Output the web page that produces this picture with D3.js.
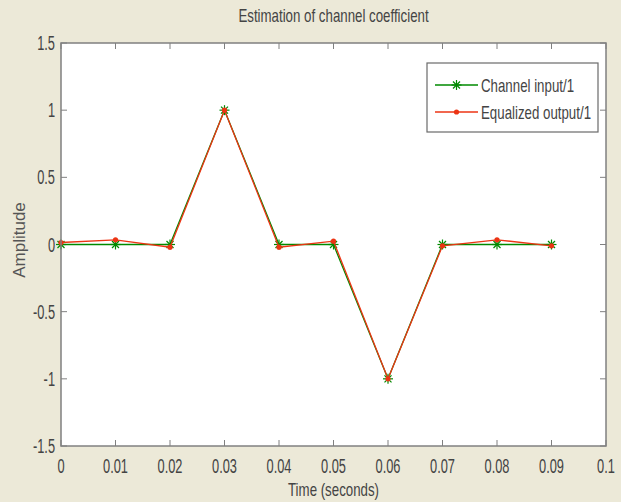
<!DOCTYPE html>
<html>
<head>
<meta charset="utf-8">
<script src="https://cdn.jsdelivr.net/npm/d3@7"></script>
<style>
  html, body { margin: 0; padding: 0; background: #ece9d8; }
  #chart { width: 621px; height: 502px; }
  text { fill: #444; font-family: 'Liberation Sans', Arial, sans-serif; }
</style>
</head>
<body>
<div id="chart"></div>
<script>
const times = [0, 0.01, 0.02, 0.03, 0.04, 0.05, 0.06, 0.07, 0.08, 0.09];
const channelInput = [0, 0, 0, 1, 0, 0, -1, 0, 0, 0];
const equalizedOutput = [0.015, 0.035, -0.02, 1.0, -0.02, 0.025, -1.0, -0.01, 0.035, -0.01];
const xTicks = [0, 0.01, 0.02, 0.03, 0.04, 0.05, 0.06, 0.07, 0.08, 0.09, 0.1];
const yTicks = [-1.5, -1, -0.5, 0, 0.5, 1, 1.5];
const seriesNames = ["Channel input/1", "Equalized output/1"];

function renderChart(el) {
  const W = 621, H = 502;
  const margin = { top: 43, right: 15, bottom: 56, left: 61 };
  const width = W - margin.left - margin.right;
  const height = H - margin.top - margin.bottom;
  const green = "#008a00";
  const red = "#ec3414";
  const axisCol = "#808080";
  const fmt = (d) => String(d).replace("\u2212", "-");

  // MATLAB-on-XP style tall narrow text
  function narrow(sel, x, y, anchor, str, sx, size) {
    return sel.append("text")
      .attr("transform", `translate(${x},${y}) scale(${sx || 0.64},1)`)
      .attr("text-anchor", anchor)
      .style("font-size", (size || 20) + "px")
      .text(str);
  }

  const svg = d3.select(el).append("svg")
    .attr("width", W)
    .attr("height", H);

  svg.append("rect")
    .attr("width", W).attr("height", H)
    .attr("fill", "#ece9d8");

  const g = svg.append("g")
    .attr("transform", `translate(${margin.left},${margin.top})`);

  const x = d3.scaleLinear().domain([0, 0.1]).range([0, width]);
  const y = d3.scaleLinear().domain([-1.5, 1.5]).range([height, 0]);

  g.append("rect")
    .attr("width", width).attr("height", height)
    .attr("fill", "#fff");

  // ticks, inward on all four sides
  const tl = 6;
  const ticks = g.append("g").attr("stroke", axisCol).attr("stroke-width", 1);
  xTicks.forEach((t) => {
    ticks.append("line").attr("x1", x(t)).attr("x2", x(t)).attr("y1", height).attr("y2", height - tl);
    ticks.append("line").attr("x1", x(t)).attr("x2", x(t)).attr("y1", 0).attr("y2", tl);
  });
  yTicks.forEach((t) => {
    ticks.append("line").attr("x1", 0).attr("x2", tl).attr("y1", y(t)).attr("y2", y(t));
    ticks.append("line").attr("x1", width).attr("x2", width - tl).attr("y1", y(t)).attr("y2", y(t));
  });

  xTicks.forEach((t) => narrow(g, x(t), height + 27, "middle", fmt(t)));
  yTicks.forEach((t) => narrow(g, -6, y(t) + 7, "end", fmt(t)));

  const line = d3.line()
    .x((d, i) => x(times[i]))
    .y((d) => y(d));

  g.append("path")
    .datum(channelInput)
    .attr("fill", "none")
    .attr("stroke", green)
    .attr("stroke-width", 1.3)
    .attr("d", line);

  function star(sel, cx, cy, s, col) {
    const p = sel.append("g").attr("stroke", col).attr("stroke-width", 1.2)
      .attr("transform", `translate(${cx},${cy})`);
    p.append("line").attr("x1", -s).attr("x2", s).attr("y1", 0).attr("y2", 0);
    p.append("line").attr("x1", 0).attr("x2", 0).attr("y1", -s).attr("y2", s);
    p.append("line").attr("x1", -s * 0.7).attr("x2", s * 0.7).attr("y1", -s * 0.7).attr("y2", s * 0.7);
    p.append("line").attr("x1", -s * 0.7).attr("x2", s * 0.7).attr("y1", s * 0.7).attr("y2", -s * 0.7);
  }

  channelInput.forEach((v, i) => star(g, x(times[i]), y(v), 5, green));

  g.append("path")
    .datum(equalizedOutput)
    .attr("fill", "none")
    .attr("stroke", red)
    .attr("stroke-width", 1.3)
    .attr("d", line);

  g.selectAll("circle.eq")
    .data(equalizedOutput)
    .enter()
    .append("circle")
    .attr("class", "eq")
    .attr("cx", (d, i) => x(times[i]))
    .attr("cy", (d) => y(d))
    .attr("r", 2.6)
    .attr("fill", red);

  g.append("rect")
    .attr("width", width).attr("height", height)
    .attr("fill", "none")
    .attr("stroke", axisCol)
    .attr("stroke-width", 1.5);

  // title and axis labels
  narrow(svg, margin.left + width / 2, 22, "middle", "Estimation of channel coefficient", 0.7, 19);
  narrow(svg, margin.left + width / 2, 496, "middle", "Time (seconds)", 0.7, 19);

  svg.append("text")
    .attr("transform", `translate(25,240) rotate(-90)`)
    .attr("text-anchor", "middle")
    .style("font-size", "17px")
    .style("fill", "#555")
    .text("Amplitude");

  // legend
  const leg = svg.append("g").attr("transform", "translate(427,63)");
  leg.append("rect")
    .attr("width", 171).attr("height", 69)
    .attr("fill", "#fff")
    .attr("stroke", "#6a6a6a")
    .attr("stroke-width", 1.2);

  const cols = [green, red];
  seriesNames.forEach((name, i) => {
    const ly = 22 + i * 27;
    leg.append("line")
      .attr("x1", 8).attr("x2", 51)
      .attr("y1", ly).attr("y2", ly)
      .attr("stroke", cols[i]).attr("stroke-width", 1.3);
    if (i === 0) star(leg, 29.5, ly, 5, green);
    else leg.append("circle").attr("cx", 29.5).attr("cy", ly).attr("r", 2.6).attr("fill", red);
    narrow(leg, 54, ly + 7, "start", name, 0.7, 19);
  });
}

renderChart(document.getElementById("chart"));
</script>
</body>
</html>
